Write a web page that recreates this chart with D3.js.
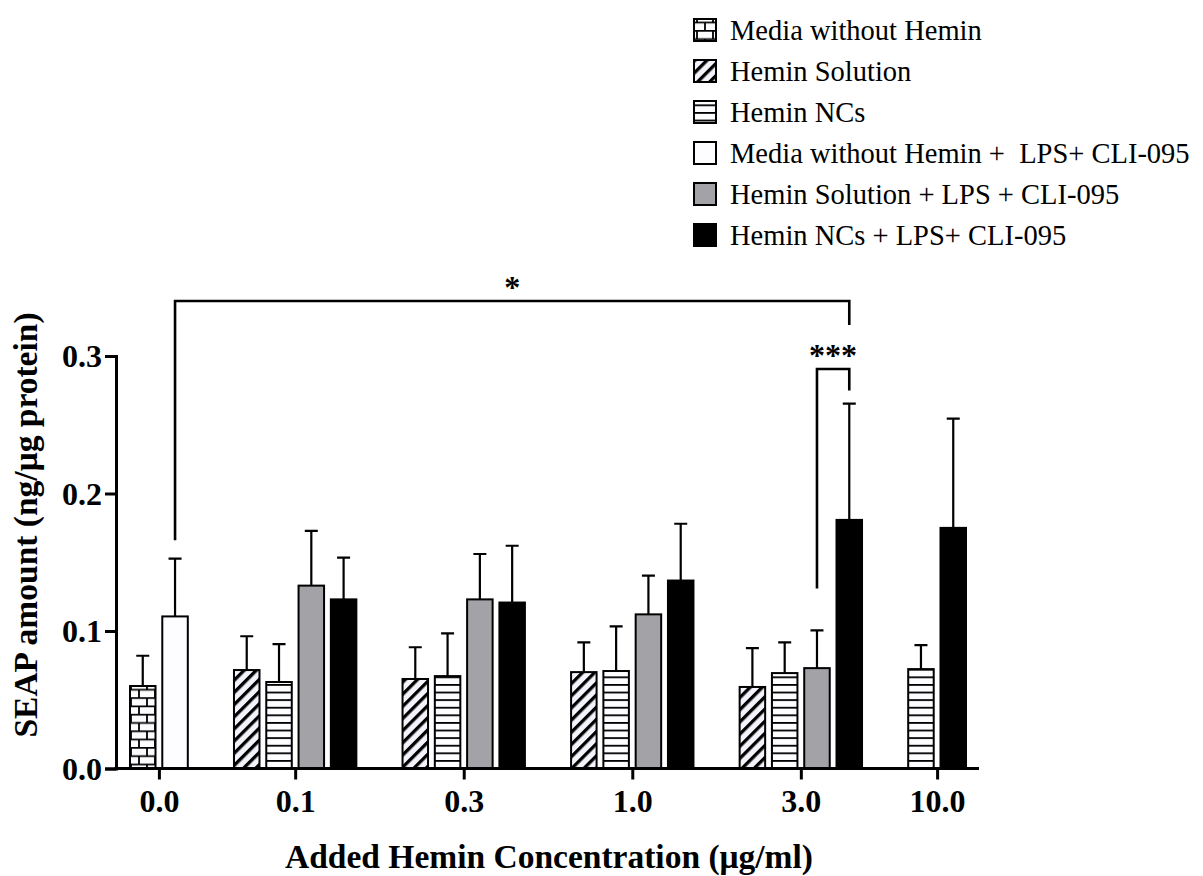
<!DOCTYPE html>
<html>
<head>
<meta charset="utf-8">
<script src="https://cdn.jsdelivr.net/npm/d3@7"></script>
<style>
  body { margin: 0; background: #fff; }
  svg { display: block; }
  text { font-family: "Liberation Serif", "Times New Roman", serif; fill: #000; }
</style>
</head>
<body>
<svg id="chart" width="1203" height="876"></svg>
<script>
// values (mean and upper SD)
const concentrations = ['0.0', '0.1', '0.3', '1.0', '3.0', '10.0'];
const seriesNames = [
  'Media without Hemin',
  'Hemin Solution',
  'Hemin NCs',
  'Media without Hemin +  LPS+ CLI-095',
  'Hemin Solution + LPS + CLI-095',
  'Hemin NCs + LPS+ CLI-095'
];
const seriesFills = ['url(#brick)', 'url(#hatch)', 'url(#hlines)', '#fdfcff', '#a3a2a7', '#000000'];

const mediaMean      = [0.060, null, null, null, null, null];
const mediaErr       = [0.022, null, null, null, null, null];
const solMean        = [null, 0.0716, 0.0651, 0.0701, 0.0593, null];
const solErr         = [null, 0.0246, 0.0231, 0.0217, 0.0282, null];
const ncsMean        = [null, 0.0629, 0.0672, 0.0709, 0.0694, 0.0723];
const ncsErr         = [null, 0.0275, 0.0311, 0.0325, 0.0224, 0.0174];
const mediaLpsMean   = [0.1106, null, null, null, null, null];
const mediaLpsErr    = [0.042, null, null, null, null, null];
const solLpsMean     = [null, 0.133, 0.123, 0.1121, 0.073, null];
const solLpsErr      = [null, 0.0398, 0.033, 0.0282, 0.0275, null];
const ncsLpsMean     = [null, 0.123, 0.1207, 0.1367, 0.1808, 0.175];
const ncsLpsErr      = [null, 0.0303, 0.0413, 0.0413, 0.0846, 0.0795];

const yTicks = [0, 0.1, 0.2, 0.3];

const means = [mediaMean, solMean, ncsMean, mediaLpsMean, solLpsMean, ncsLpsMean];
const errs  = [mediaErr, solErr, ncsErr, mediaLpsErr, solLpsErr, ncsLpsErr];

// significance brackets: group index + series index for each leg
const brackets = [
  { label: '*',   a: [0, 3], b: [4, 5], top: 0.340, legA: 0.166, legB: 0.3225 },
  { label: '***', a: [4, 4], b: [4, 5], top: 0.2905, legA: 0.131, legB: 0.275 }
];

const serif = '"Liberation Serif", "Times New Roman", Times, serif';
const svg = d3.select('#chart');
const barFrac = 0.79;   // bar width relative to bar pitch
const groupGap = 1.22;  // extra space between groups, in bar pitches

// defs: fill patterns
const defs = svg.append('defs');
const brick = defs.append('pattern').attr('id', 'brick').attr('patternUnits', 'userSpaceOnUse')
  .attr('x', 130).attr('y', 0).attr('width', 16).attr('height', 16.6);
brick.append('rect').attr('width', 16).attr('height', 16.6).attr('fill', '#fdfcff');
brick.append('path').attr('d', 'M0,0.9H16M0,9.2H16M1,0.9V9.2M9,9.2V17.5')
  .attr('stroke', '#000').attr('stroke-width', 1.8).attr('fill', 'none');

const hatch = defs.append('pattern').attr('id', 'hatch').attr('patternUnits', 'userSpaceOnUse')
  .attr('width', 8.6).attr('height', 8.6).attr('patternTransform', 'rotate(45)');
hatch.append('rect').attr('width', 8.6).attr('height', 8.6).attr('fill', '#f3f3fb');
hatch.append('rect').attr('width', 3.3).attr('height', 8.6).attr('fill', '#000');

const hl = defs.append('pattern').attr('id', 'hlines').attr('patternUnits', 'userSpaceOnUse')
  .attr('width', 10).attr('height', 7.6);
hl.append('rect').attr('width', 10).attr('height', 7.6).attr('fill', '#fdfcff');
hl.append('line').attr('x1', 0).attr('x2', 10).attr('y1', 0.9).attr('y2', 0.9)
  .attr('stroke', '#000').attr('stroke-width', 1.8);

// layout of bars: each group holds only the series that have a value there
let cursor = 0;
const groups = concentrations.map((c, gi) => {
  const bars = [];
  means.forEach((m, si) => {
    if (m[gi] != null) bars.push({ gi, si, mean: m[gi], err: errs[si][gi], slot: cursor + bars.length });
  });
  const g = { label: c, start: cursor, bars, center: cursor + (bars.length - 1 + barFrac) / 2 };
  cursor += bars.length + groupGap;
  return g;
});
const lastGroup = groups[groups.length - 1];
const totalUnits = lastGroup.start + lastGroup.bars.length - 1 + barFrac;
const allBars = groups.flatMap(g => g.bars);

const x = d3.scaleLinear().domain([0, totalUnits]).range([130, 966]);
const y = d3.scaleLinear().domain([0, 0.3]).range([768.5, 356]);
const axisX = 116;

// bars
svg.append('g').selectAll('rect').data(allBars).enter().append('rect')
  .attr('x', d => x(d.slot))
  .attr('y', d => y(d.mean))
  .attr('width', d => x(d.slot + barFrac) - x(d.slot))
  .attr('height', d => y(0) - y(d.mean))
  .attr('fill', d => seriesFills[d.si])
  .attr('stroke', '#000').attr('stroke-width', 2);

// error bars (upper only)
const eb = svg.append('g').attr('stroke', '#000').attr('stroke-width', 2.2).attr('fill', 'none');
eb.selectAll('path').data(allBars).enter().append('path')
  .attr('d', d => {
    const cx = x(d.slot + barFrac / 2);
    const y0 = y(d.mean), y1 = y(d.mean + d.err);
    return `M${cx},${y0}V${y1}M${cx - 6.5},${y1}H${cx + 6.5}`;
  });

// y axis
const yAxis = svg.append('g').attr('transform', `translate(${axisX},0)`)
  .call(d3.axisLeft(y).tickValues(yTicks).tickFormat(d3.format('.1f')).tickSizeOuter(0).tickSize(11).tickPadding(3));
yAxis.select('.domain').attr('stroke-width', 3);
yAxis.selectAll('.tick line').attr('stroke-width', 3);
yAxis.selectAll('.tick text').attr('font-size', 32).attr('font-weight', 'bold')
  .attr('font-family', serif).attr('dy', '0.34em');

// x axis: ticks at group centres
const xCat = d3.scaleOrdinal().domain(concentrations).range(groups.map(g => x(g.center)));
const xAxis = svg.append('g').attr('transform', `translate(0,${y(0)})`)
  .call(d3.axisBottom(xCat).tickSize(11).tickPadding(10));
xAxis.select('.domain').remove();
xAxis.selectAll('.tick line').attr('stroke-width', 3);
xAxis.selectAll('.tick text').attr('font-size', 32).attr('font-weight', 'bold')
  .attr('font-family', serif);
svg.append('line').attr('x1', axisX - 1.5).attr('x2', 979).attr('y1', y(0)).attr('y2', y(0))
  .attr('stroke', '#000').attr('stroke-width', 3);

// axis titles
svg.append('text').attr('x', 549).attr('y', 868).attr('text-anchor', 'middle')
  .attr('font-family', serif).attr('font-size', 33.5).attr('font-weight', 'bold')
  .text('Added Hemin Concentration (μg/ml)');
svg.append('text').attr('transform', 'translate(37,525) rotate(-90)').attr('text-anchor', 'middle')
  .attr('font-family', serif).attr('font-size', 33.5).attr('font-weight', 'bold')
  .text('SEAP amount (ng/μg protein)');

// significance brackets
function barCenter(gi, si) {
  const b = allBars.find(d => d.gi === gi && d.si === si);
  return x(b.slot + barFrac / 2);
}
const br = svg.append('g');
brackets.forEach(b => {
  const xa = barCenter(b.a[0], b.a[1]), xb = barCenter(b.b[0], b.b[1]);
  br.append('path')
    .attr('d', `M${xa},${y(b.legA)}V${y(b.top)}H${xb}V${y(b.legB)}`)
    .attr('fill', 'none').attr('stroke', '#000').attr('stroke-width', 2.6);
  br.append('text').attr('x', (xa + xb) / 2).attr('y', y(b.top) - 3)
    .attr('text-anchor', 'middle').attr('font-family', serif)
    .attr('font-size', 32).attr('font-weight', 'bold').text(b.label);
});

// legend
const legend = svg.append('g');
const rows = legend.selectAll('g').data(seriesNames).enter().append('g')
  .attr('transform', (d, i) => `translate(694,${30 + i * 41})`);
rows.append('rect').attr('x', 0).attr('y', -11).attr('width', 22).attr('height', 22)
  .attr('fill', (d, i) => seriesFills[i]).attr('stroke', '#000').attr('stroke-width', 2);
rows.append('text').attr('x', 36).attr('y', 10)
  .attr('font-family', serif).attr('font-weight', 'normal').attr('font-size', 28.5)
  .style('white-space', 'pre').text(d => d);
</script>
</body>
</html>
